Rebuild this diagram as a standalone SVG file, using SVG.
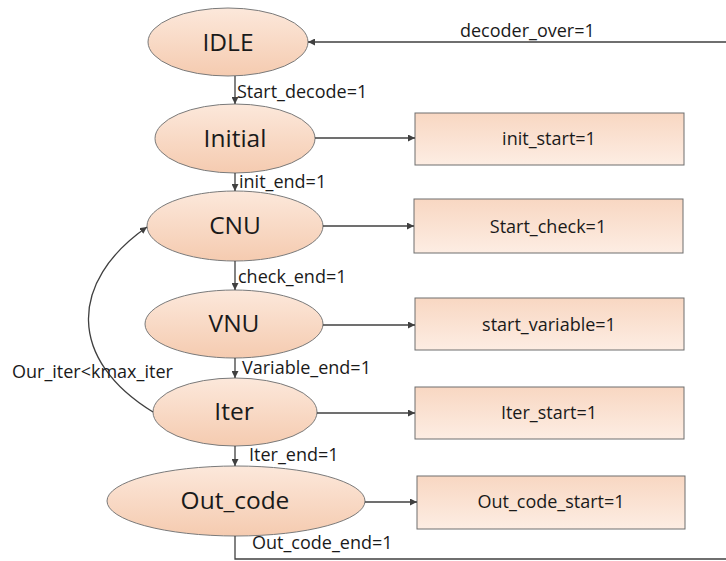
<svg xmlns="http://www.w3.org/2000/svg" width="726" height="561" viewBox="0 0 726 561">
<style>
.st ellipse{fill:url(#eg);stroke:#7a7a7a;stroke-width:1}
.bx rect{fill:url(#bg);stroke:#6e6e6e;stroke-width:1}
.nl{font-family:"Open Sans","Noto Sans",sans-serif;font-size:24.5px;fill:#1a1a1a;text-anchor:middle}
.bl{font-family:"Open Sans","Noto Sans",sans-serif;font-size:18px;fill:#1a1a1a;text-anchor:middle}
.el{font-family:"Open Sans","Noto Sans",sans-serif;font-size:18px;fill:#1a1a1a}
.cn path{fill:none;stroke:#404040;stroke-width:1.3}
.ah{marker-end:url(#arr)}
</style>
<defs>
<linearGradient id="eg" x1="0" y1="0" x2="0" y2="1">
<stop offset="0" stop-color="#fce8db"/>
<stop offset="1" stop-color="#f5cbb0"/>
</linearGradient>
<linearGradient id="bg" x1="0" y1="0" x2="0" y2="1">
<stop offset="0" stop-color="#f8d7c2"/>
<stop offset="1" stop-color="#fdede3"/>
</linearGradient>
<marker id="arr" viewBox="0 0 10 10" refX="10" refY="5" markerWidth="7" markerHeight="7" orient="auto" markerUnits="userSpaceOnUse">
<path d="M0,0 L10,5 L0,10 Z" fill="#404040"/>
</marker>
</defs>

<g id="IDLE" class="st"><ellipse cx="228" cy="42" rx="80" ry="34"/><text class="nl" x="228" y="51">IDLE</text></g>
<g id="Initial" class="st"><ellipse cx="235" cy="138.5" rx="80" ry="34.5"/><text class="nl" x="235" y="147">Initial</text></g>
<g id="CNU" class="st"><ellipse cx="235" cy="226" rx="88" ry="35"/><text class="nl" x="235" y="234">CNU</text></g>
<g id="VNU" class="st"><ellipse cx="234" cy="324" rx="89" ry="34"/><text class="nl" x="234" y="332">VNU</text></g>
<g id="Iter" class="st"><ellipse cx="235" cy="412" rx="82" ry="34"/><text class="nl" x="234" y="420">Iter</text></g>
<g id="Out_code" class="st"><ellipse cx="236" cy="501" rx="129" ry="35"/><text class="nl" x="235" y="509">Out_code</text></g>

<g id="init_start" class="bx"><rect x="415" y="113" width="269" height="52"/><text class="bl" x="549" y="145">init_start=1</text></g>
<g id="Start_check" class="bx"><rect x="414" y="199" width="269" height="54"/><text class="bl" x="548" y="233">Start_check=1</text></g>
<g id="start_variable" class="bx"><rect x="415" y="298" width="269" height="52"/><text class="bl" x="549" y="331">start_variable=1</text></g>
<g id="Iter_start" class="bx"><rect x="415" y="387" width="269" height="52"/><text class="bl" x="549" y="419">Iter_start=1</text></g>
<g id="Out_code_start" class="bx"><rect x="417" y="476" width="268" height="53"/><text class="bl" x="551" y="508">Out_code_start=1</text></g>

<g id="connectors" class="cn">
<path class="ah" d="M235,76 V104"/>
<path class="ah" d="M235,173 V191"/>
<path class="ah" d="M235,261 V290"/>
<path class="ah" d="M235,358 V378"/>
<path class="ah" d="M235,446 V466"/>
<path class="ah" d="M315,138 H415"/>
<path class="ah" d="M323,226 H414"/>
<path class="ah" d="M323,325 H415"/>
<path class="ah" d="M317,413 H415"/>
<path class="ah" d="M365,502 H417"/>
<path class="ah" d="M153,412 C68,360 68,282 147,227"/>
<path class="ah" d="M235,536 V559 H730 V42 H308"/>
</g>

<g id="labels">
<text class="el" x="460" y="37">decoder_over=1</text>
<text class="el" x="237" y="98">Start_decode=1</text>
<text class="el" x="239" y="188">init_end=1</text>
<text class="el" x="238" y="283">check_end=1</text>
<text class="el" x="242" y="374">Variable_end=1</text>
<text class="el" x="12" y="378">Our_iter&lt;kmax_iter</text>
<text class="el" x="249" y="461">Iter_end=1</text>
<text class="el" x="252" y="549">Out_code_end=1</text>
</g>
</svg>
